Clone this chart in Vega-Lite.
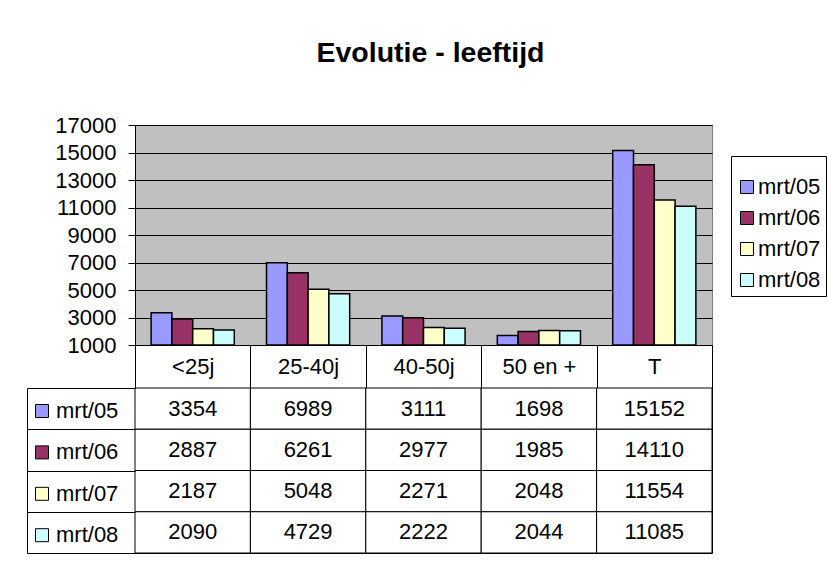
{
  "$schema": "https://vega.github.io/schema/vega-lite/v6.json",
  "padding": {"left": 26, "top": 39, "right": 0, "bottom": 0},
  "autosize": {"type": "pad"},
  "background": "white",
  "config": {"font": "Liberation Sans", "view": {"stroke": null}},
  "title": {"text": "Evolutie - leeftijd", "fontSize": 28.5, "fontWeight": "bold", "anchor": "middle", "offset": 46, "dx": 4, "color": "black", "font": "Liberation Sans"},
  "datasets": {
    "d": [
      {"cat": "<25j", "s": "mrt/05", "v": 3354},
      {"cat": "<25j", "s": "mrt/06", "v": 2887},
      {"cat": "<25j", "s": "mrt/07", "v": 2187},
      {"cat": "<25j", "s": "mrt/08", "v": 2090},
      {"cat": "25-40j", "s": "mrt/05", "v": 6989},
      {"cat": "25-40j", "s": "mrt/06", "v": 6261},
      {"cat": "25-40j", "s": "mrt/07", "v": 5048},
      {"cat": "25-40j", "s": "mrt/08", "v": 4729},
      {"cat": "40-50j", "s": "mrt/05", "v": 3111},
      {"cat": "40-50j", "s": "mrt/06", "v": 2977},
      {"cat": "40-50j", "s": "mrt/07", "v": 2271},
      {"cat": "40-50j", "s": "mrt/08", "v": 2222},
      {"cat": "50 en +", "s": "mrt/05", "v": 1698},
      {"cat": "50 en +", "s": "mrt/06", "v": 1985},
      {"cat": "50 en +", "s": "mrt/07", "v": 2048},
      {"cat": "50 en +", "s": "mrt/08", "v": 2044},
      {"cat": "T", "s": "mrt/05", "v": 15152},
      {"cat": "T", "s": "mrt/06", "v": 14110},
      {"cat": "T", "s": "mrt/07", "v": 11554},
      {"cat": "T", "s": "mrt/08", "v": 11085}
    ]
  },
  "spacing": 43,
  "bounds": "flush",
  "resolve": {
    "scale": {"x": "independent", "y": "independent", "color": "independent", "xOffset": "independent"},
    "legend": {"color": "independent"},
    "axis": {"x": "independent", "y": "independent"}
  },
  "vconcat": [
    {
      "width": 577,
      "height": 220,
      "view": {"fill": "#C0C0C0", "stroke": "#808080"},
      "data": {"name": "d"},
      "mark": {"type": "bar", "stroke": "black", "strokeWidth": 1.5},
      "encoding": {
        "x": {
          "field": "cat", "type": "nominal",
          "sort": ["<25j", "25-40j", "40-50j", "50 en +", "T"],
          "scale": {"paddingInner": 0, "paddingOuter": 0},
          "axis": {"title": null, "labelFontSize": 22, "labelColor": "black", "labelAngle": 0, "tickBand": "extent", "tickSize": 43, "tickColor": "black", "domainColor": "black", "labelPadding": -32, "grid": false, "labelFont": "Liberation Sans"}
        },
        "xOffset": {
          "field": "s", "type": "nominal",
          "sort": ["mrt/05", "mrt/06", "mrt/07", "mrt/08"],
          "scale": {"paddingInner": 0, "paddingOuter": 0.775}
        },
        "y": {
          "field": "v", "type": "quantitative",
          "scale": {"domain": [1000, 17000], "nice": false, "zero": false},
          "axis": {"title": null, "values": [1000, 3000, 5000, 7000, 9000, 11000, 13000, 15000, 17000], "grid": true, "gridColor": "black", "gridWidth": 1, "tickColor": "black", "tickSize": 7, "domainColor": "black", "labelFontSize": 22, "labelColor": "black", "labelPadding": 12, "labelOverlap": false, "labelFlush": false, "format": "d", "labelFont": "Liberation Sans"}
        },
        "y2": {"datum": 1000},
        "color": {
          "field": "s", "type": "nominal",
          "scale": {"domain": ["mrt/05", "mrt/06", "mrt/07", "mrt/08"], "range": ["#9999FF", "#993366", "#FFFFCC", "#CCFFFF"]},
          "legend": {"orient": "none", "legendX": 596, "legendY": 31, "title": " ", "titleFontSize": 12, "titlePadding": 3, "strokeColor": "black", "fillColor": "white", "padding": 5, "symbolType": "square", "symbolSize": 169, "symbolStrokeColor": "black", "symbolStrokeWidth": 1, "labelFontSize": 22, "labelColor": "black", "rowPadding": 9, "labelOffset": 0, "labelFont": "Liberation Sans"}
        }
      }
    },
    {
      "width": 577,
      "height": 165,
      "view": {"fill": "white", "stroke": "black"},
      "data": {"name": "d"},
      "encoding": {
        "x": {
          "field": "cat", "type": "nominal",
          "sort": ["<25j", "25-40j", "40-50j", "50 en +", "T"],
          "scale": {"paddingInner": 0, "paddingOuter": 0},
          "axis": null
        },
        "y": {
          "field": "s", "type": "nominal",
          "sort": ["mrt/05", "mrt/06", "mrt/07", "mrt/08"],
          "scale": {"paddingInner": 0, "paddingOuter": 0},
          "axis": {"orient": "left", "offset": 108, "title": null, "labels": false, "domain": true, "domainColor": "black", "ticks": true, "tickSize": -108, "tickBand": "extent", "tickColor": "black", "grid": false}
        }
      },
      "layer": [
        {
          "mark": {"type": "rect", "fill": "white", "stroke": "black", "strokeWidth": 1}
        },
        {
          "mark": {"type": "text", "fontSize": 22, "font": "Liberation Sans", "color": "black"},
          "encoding": {"text": {"field": "v", "type": "nominal"}}
        },
        {
          "mark": {"type": "square", "opacity": 0, "filled": true},
          "encoding": {
            "color": {
              "field": "s", "type": "nominal",
              "scale": {"domain": ["mrt/05", "mrt/06", "mrt/07", "mrt/08"], "range": ["#9999FF", "#993366", "#FFFFCC", "#CCFFFF"]},
              "legend": {"orient": "none", "legendX": -104, "legendY": 12, "title": null, "padding": 0, "symbolType": "square", "symbolSize": 169, "symbolOpacity": 1, "symbolStrokeColor": "black", "symbolStrokeWidth": 1, "labelFontSize": 22, "labelColor": "black", "rowPadding": 19.4, "labelOffset": 3, "labelFont": "Liberation Sans"}
            }
          }
        }
      ]
    }
  ]
}
